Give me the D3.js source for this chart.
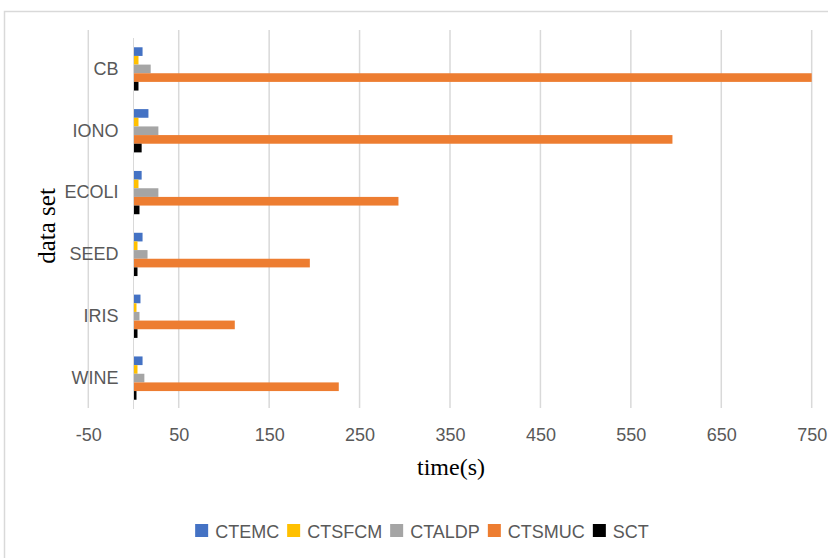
<!DOCTYPE html>
<html>
<head>
<meta charset="utf-8">
<script src="https://cdn.jsdelivr.net/npm/d3@7"></script>
<style>
  html, body { margin: 0; padding: 0; background: #fff; }
  svg { display: block; }
</style>
</head>
<body>
<svg id="chart" width="828" height="558"></svg>
<script>
// Data sets, top to bottom
const categories = ["CB", "IONO", "ECOLI", "SEED", "IRIS", "WINE"];
const seriesNames = ["CTEMC", "CTSFCM", "CTALDP", "CTSMUC", "SCT"];
const seriesColors = ["#4472C4", "#FFC000", "#A5A5A5", "#ED7D31", "#000000"];

// Running time (s) per data set
const ctemc  = [10, 16.5, 9, 10, 7.7, 10];
const ctsfcm = [5.5, 5.5, 5.5, 4.4, 3.3, 4.4];
const ctaldp = [19, 27.5, 27.5, 15.5, 6.6, 12];
const ctsmuc = [750, 596, 293, 195, 112, 227];
const sct    = [5.5, 9, 6.6, 4.4, 4.4, 3.3];
const seriesValues = [ctemc, ctsfcm, ctaldp, ctsmuc, sct];

const xTicks = [-50, 50, 150, 250, 350, 450, 550, 650, 750];

const svg = d3.select("#chart");
const labelFont = "'Liberation Sans', Arial, sans-serif";
const titleFont = "'Liberation Serif', 'Times New Roman', serif";
const textGray = "#595959";
const gridGray = "#d9d9d9";

// Chart frame
svg.append("rect")
  .attr("x", 4.5).attr("y", 11.5)
  .attr("width", 900).attr("height", 600)
  .attr("fill", "none").attr("stroke", gridGray).attr("stroke-width", 1.5);

const x = d3.scaleLinear().domain([-50, 750]).range([88.3, 811.7]);
const y = d3.scaleBand().domain(categories).range([38, 409])
  .paddingInner(0.3).paddingOuter(0.15);
const ySub = d3.scaleBand().domain(seriesNames).range([0, y.bandwidth()]);

// Vertical gridlines
svg.append("g").selectAll("line").data(xTicks).join("line")
  .attr("x1", d => x(d)).attr("x2", d => x(d))
  .attr("y1", 30).attr("y2", 408)
  .attr("stroke", gridGray).attr("stroke-width", 1.5);

// Value axis labels (plain hyphen for negatives)
const xAxis = d3.axisBottom(x).tickValues(xTicks).tickSize(0).tickPadding(0)
  .tickFormat(d => String(d));
const gx = svg.append("g").attr("transform", "translate(0,428)").call(xAxis);
gx.select(".domain").remove();
gx.selectAll("text")
  .attr("dy", "0.71em")
  .attr("font-family", labelFont).attr("font-size", 18)
  .attr("fill", textGray);

// Bars
const groups = svg.append("g").selectAll("g").data(categories).join("g")
  .attr("transform", c => `translate(0,${y(c)})`);
groups.selectAll("rect")
  .data((c, i) => seriesNames.map((s, k) => ({ s, k, v: seriesValues[k][i] })))
  .join("rect")
  .attr("x", d => x(Math.min(0, d.v)))
  .attr("y", d => ySub(d.s))
  .attr("width", d => Math.abs(x(d.v) - x(0)))
  .attr("height", ySub.bandwidth())
  .attr("fill", d => seriesColors[d.k]);

// Category axis line at zero
svg.append("line")
  .attr("x1", x(0)).attr("x2", x(0))
  .attr("y1", 38).attr("y2", 409)
  .attr("stroke", gridGray).attr("stroke-width", 1);

// Category labels
const yAxis = d3.axisLeft(y).tickSize(0).tickPadding(15);
const gy = svg.append("g").attr("transform", `translate(${x(0)},0)`).call(yAxis);
gy.select(".domain").remove();
gy.selectAll("text")
  .attr("font-family", labelFont).attr("font-size", 18)
  .attr("fill", textGray);

// Axis titles
svg.append("text")
  .attr("x", 451).attr("y", 475)
  .attr("text-anchor", "middle")
  .attr("font-family", titleFont).attr("font-size", 24)
  .attr("fill", "#000")
  .text("time(s)");

svg.append("text")
  .attr("transform", "translate(55,226) rotate(-90)")
  .attr("text-anchor", "middle")
  .attr("font-family", titleFont).attr("font-size", 25)
  .attr("fill", "#000")
  .text("data set");

// Legend
const legend = svg.append("g");
const items = legend.selectAll("g").data(seriesNames).join("g");
items.append("rect")
  .attr("x", 0).attr("y", 524)
  .attr("width", 13).attr("height", 13)
  .attr("fill", (d, i) => seriesColors[i]);
items.append("text")
  .attr("x", 20).attr("y", 538)
  .attr("font-family", labelFont).attr("font-size", 18)
  .attr("fill", textGray)
  .text(d => d);
let cursor = 0;
items.each(function() {
  const g = d3.select(this);
  g.attr("transform", `translate(${cursor},0)`);
  cursor += 20 + g.select("text").node().getComputedTextLength() + 8;
});
const legendWidth = cursor - 8;
legend.attr("transform", `translate(${422 - legendWidth / 2},0)`);
</script>
</body>
</html>
